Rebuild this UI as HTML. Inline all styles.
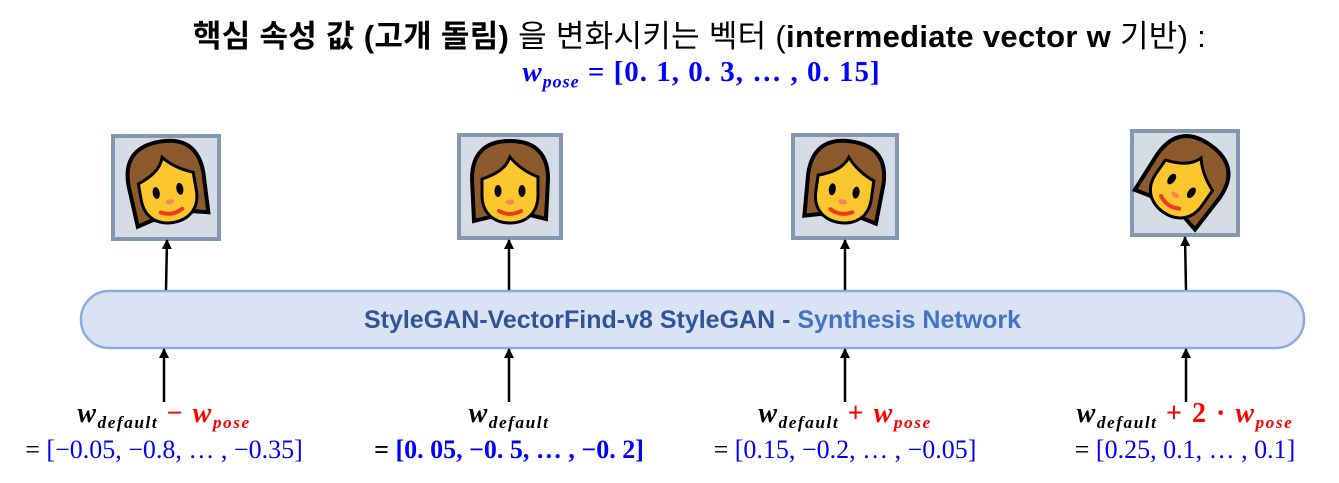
<!DOCTYPE html>
<html><head><meta charset="utf-8"><style>
body{margin:0;width:1339px;height:483px;background:#fff;overflow:hidden;position:relative;font-family:"Liberation Sans","Noto Sans CJK KR",sans-serif}
.t{position:absolute;white-space:nowrap;text-align:center}
.m{font-family:"Liberation Serif","DejaVu Serif",serif}
.b{color:#0000ff}
.r{color:#ff0000}
sub{font-size:62%;vertical-align:-0.35em}
</style></head><body>
<div class="t" style="left:0;width:1399px;top:11px;font-size:31px;color:#000;letter-spacing:0.3px"><b>핵심 속성 값 (고개 돌림)</b> 을 변화시키는 벡터 (<b>intermediate vector w</b> 기반) :</div>
<div class="t m" style="left:0;width:1403px;top:56px;font-size:29px;color:#0000ff;font-weight:bold;letter-spacing:1px"><i>w</i><sub><i>pose</i></sub> = [0. 1, 0. 3, … , 0. 15]</div>

<svg width="1339" height="483" style="position:absolute;left:0;top:0">
<defs>
<marker id="a" markerWidth="10" markerHeight="10" refX="9" refY="5" orient="auto" markerUnits="userSpaceOnUse"><path d="M0,0 L10,5 L0,10 Z" fill="#000"/></marker>
<g id="face">
<path d="M-36,36 L-38,-6 C-38,-36 -20,-44 0,-44 C20,-44 38,-36 38,-6 L36,34 L20,30 L0,36 L-20,32 Z" fill="#8d5a2e" stroke="#000" stroke-width="4"/>
<path d="M-28,-6 C-16,-10 -4,-16 0,-28 C8,-18 18,-12 28,-8 L28,10 C28,30 14,38 0,38 C-14,38 -28,30 -28,10 Z" fill="#fcc62f" stroke="#000" stroke-width="3"/>
<ellipse cx="-12" cy="6" rx="3.5" ry="6" fill="#000"/><ellipse cx="12" cy="6" rx="3.5" ry="6" fill="#000"/>
<ellipse cx="0" cy="17" rx="4.5" ry="2.5" fill="#f4845a"/>
<path d="M-11,26 Q0,32 11,26" stroke="#f0381f" stroke-width="4" fill="none" stroke-linecap="round"/>
</g>
</defs>
<g fill="#d6dce5" stroke="#8497b0" stroke-width="4">
<rect x="113" y="136" width="106" height="103"/>
<rect x="459" y="135" width="102" height="103"/>
<rect x="793" y="135" width="104" height="103"/>
<rect x="1132" y="131" width="106" height="104"/>
</g>
<use href="#face" transform="translate(167,185) rotate(-10)"/>
<use href="#face" transform="translate(510,185)"/>
<use href="#face" transform="translate(845,185) rotate(8)"/>
<use href="#face" transform="translate(1185,181) rotate(35)"/>
<rect x="81" y="291" width="1223" height="57" rx="28" fill="#dae3f3" stroke="#8faadc" stroke-width="2.5"/>
<g stroke="#000" stroke-width="2.5" marker-end="url(#a)">
<line x1="166" y1="290" x2="167" y2="240"/>
<line x1="509" y1="290" x2="509" y2="240"/>
<line x1="845" y1="290" x2="845" y2="240"/>
<line x1="1186" y1="290" x2="1185" y2="237"/>
<line x1="164" y1="402" x2="164" y2="349"/>
<line x1="509" y1="402" x2="509" y2="349"/>
<line x1="845" y1="402" x2="845" y2="349"/>
<line x1="1186" y1="402" x2="1186" y2="349"/>
</g>
</svg>
<div class="t" style="left:81px;width:1223px;top:306px;font-size:25px;font-weight:bold;color:#2f5597">StyleGAN-VectorFind-v8 StyleGAN - <span style="color:#4472c4">Synthesis Network</span></div>

<div class="t m" style="left:0;width:328px;top:398px;font-size:28px;font-weight:bold;letter-spacing:1.5px"><i>w</i><sub><i>default</i></sub> <span class="r">− <i>w</i><sub><i>pose</i></sub></span></div>
<div class="t m" style="left:0;width:328px;top:435px;font-size:26px">= <span class="b">[−0.05, −0.8, … , −0.35]</span></div>
<div class="t m" style="left:345px;width:328px;top:398px;font-size:28px;font-weight:bold;letter-spacing:1.5px"><i>w</i><sub><i>default</i></sub></div>
<div class="t m" style="left:345px;width:328px;top:435px;font-size:26px;font-weight:bold">= <span class="b">[0. 05, −0. 5, … , −0. 2]</span></div>
<div class="t m" style="left:681px;width:328px;top:398px;font-size:28px;font-weight:bold;letter-spacing:1.5px"><i>w</i><sub><i>default</i></sub> <span class="r">+ <i>w</i><sub><i>pose</i></sub></span></div>
<div class="t m" style="left:681px;width:328px;top:435px;font-size:26px">= <span class="b">[0.15, −0.2, … , −0.05]</span></div>
<div class="t m" style="left:1020px;width:330px;top:398px;font-size:28px;font-weight:bold;letter-spacing:1.5px"><i>w</i><sub><i>default</i></sub> <span class="r">+ 2 · <i>w</i><sub><i>pose</i></sub></span></div>
<div class="t m" style="left:1020px;width:330px;top:435px;font-size:26px">= <span class="b">[0.25, 0.1, … , 0.1]</span></div>
</body></html>
